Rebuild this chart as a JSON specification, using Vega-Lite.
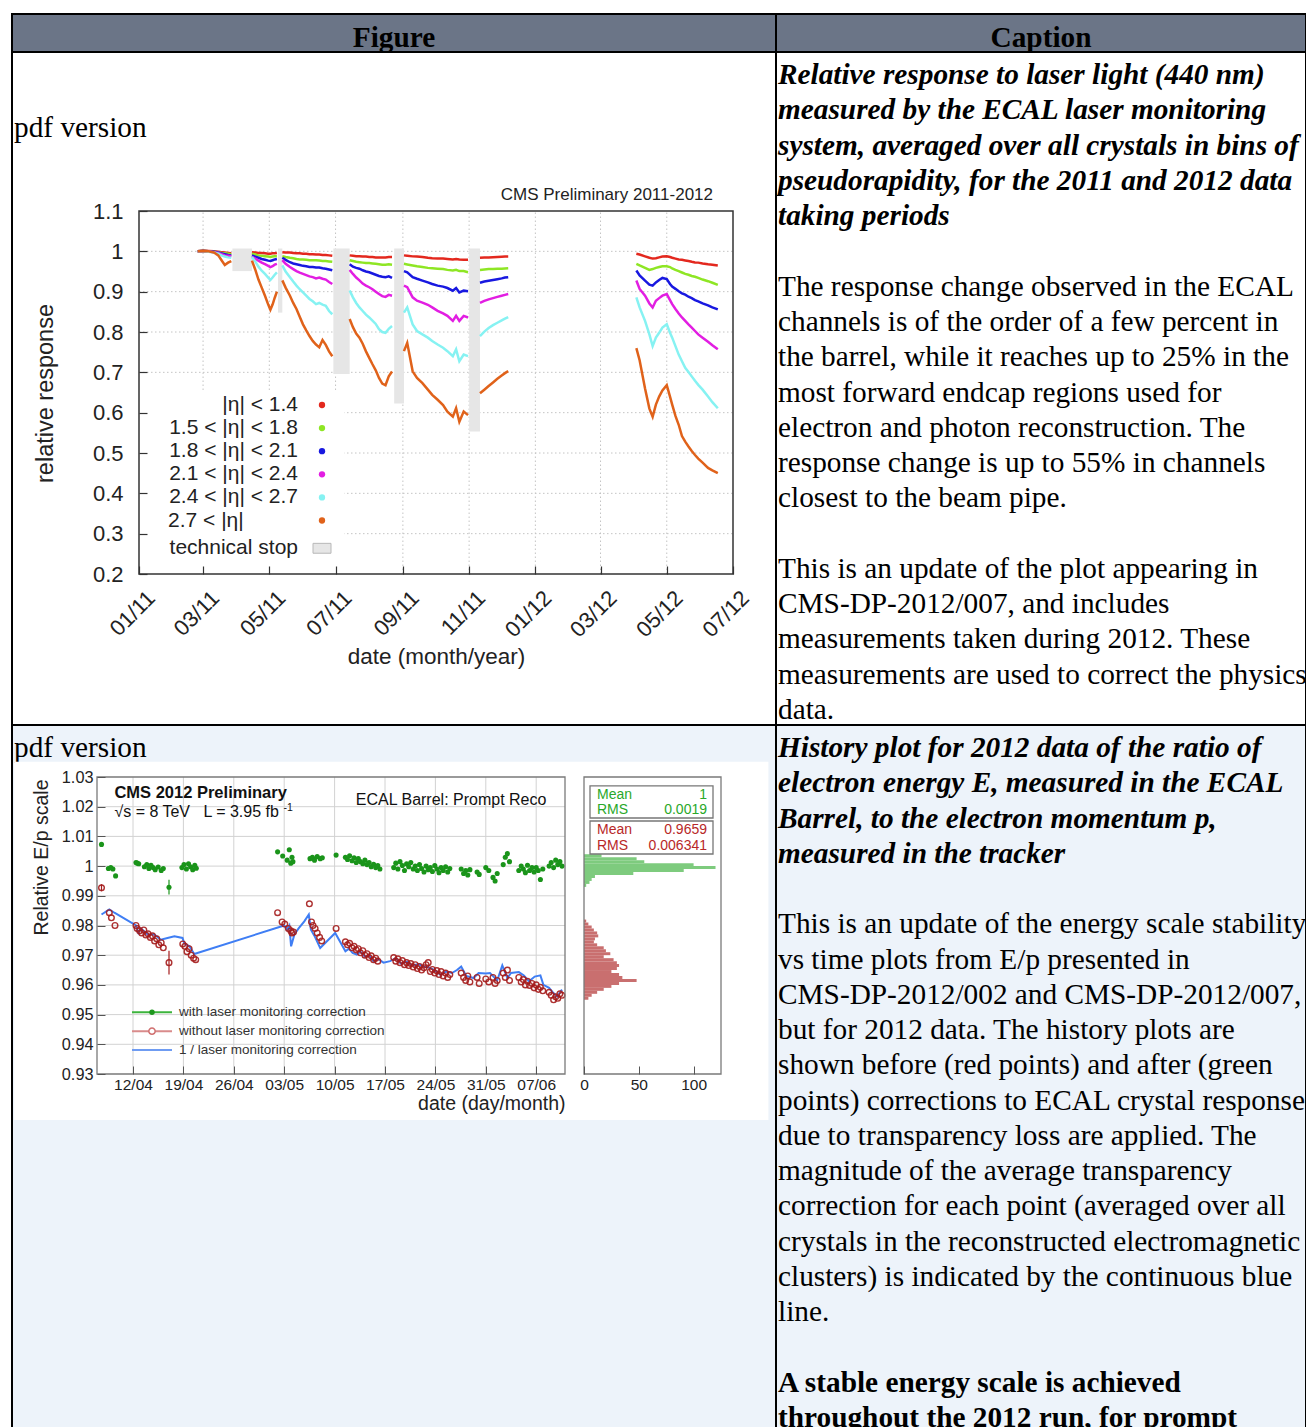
{
  "$schema": "https://vega.github.io/schema/vega-lite/v6.json",
  "width": 1306,
  "height": 1427,
  "autosize": "none",
  "padding": 0,
  "background": "#ffffff",
  "config": {"view": {"stroke": null}, "axis": {"labelFont": "Liberation Sans", "titleFont": "Liberation Sans", "zindex": 1}},
  "datasets": {
    "cells": [
      {"c0": 0, "c1": 1, "r0": 0, "r1": 1, "kind": "head"},
      {"c0": 1, "c1": 2, "r0": 0, "r1": 1, "kind": "head"},
      {"c0": 0, "c1": 1, "r0": 1, "r1": 2, "kind": "plain"},
      {"c0": 1, "c1": 2, "r0": 1, "r1": 2, "kind": "plain"},
      {"c0": 0, "c1": 1, "r0": 2, "r1": 3, "kind": "shade"},
      {"c0": 1, "c1": 2, "r0": 2, "r1": 3, "kind": "shade"}
    ],
    "caption1": [
      {"col": 0, "k": 1.5, "p": "tx", "t": "pdf version"},
      {"col": 1, "k": 0, "p": "ti", "t": "Relative response to laser light (440 nm)"},
      {"col": 1, "k": 1, "p": "ti", "t": "measured by the ECAL laser monitoring"},
      {"col": 1, "k": 2, "p": "ti", "t": "system, averaged over all crystals in bins of"},
      {"col": 1, "k": 3, "p": "ti", "t": "pseudorapidity, for the 2011 and 2012 data"},
      {"col": 1, "k": 4, "p": "ti", "t": "taking periods"},
      {"col": 1, "k": 6, "p": "tx", "t": "The response change observed in the ECAL"},
      {"col": 1, "k": 7, "p": "tx", "t": "channels is of the order of a few percent in"},
      {"col": 1, "k": 8, "p": "tx", "t": "the barrel, while it reaches up to 25% in the"},
      {"col": 1, "k": 9, "p": "tx", "t": "most forward endcap regions used for"},
      {"col": 1, "k": 10, "p": "tx", "t": "electron and photon reconstruction. The"},
      {"col": 1, "k": 11, "p": "tx", "t": "response change is up to 55% in channels"},
      {"col": 1, "k": 12, "p": "tx", "t": "closest to the beam pipe."},
      {"col": 1, "k": 14, "p": "tx", "t": "This is an update of the plot appearing in"},
      {"col": 1, "k": 15, "p": "tx", "t": "CMS-DP-2012/007, and includes"},
      {"col": 1, "k": 16, "p": "tx", "t": "measurements taken during 2012. These"},
      {"col": 1, "k": 17, "p": "tx", "t": "measurements are used to correct the physics"},
      {"col": 1, "k": 18, "p": "tx", "t": "data."}
    ],
    "caption2": [
      {"col": 0, "k": 0, "p": "tx", "t": "pdf version"},
      {"col": 1, "k": 0, "p": "ti", "t": "History plot for 2012 data of the ratio of"},
      {"col": 1, "k": 1, "p": "ti", "t": "electron energy E, measured in the ECAL"},
      {"col": 1, "k": 2, "p": "ti", "t": "Barrel, to the electron momentum p,"},
      {"col": 1, "k": 3, "p": "ti", "t": "measured in the tracker"},
      {"col": 1, "k": 5, "p": "tx", "t": "This is an update of the energy scale stability"},
      {"col": 1, "k": 6, "p": "tx", "t": "vs time plots from E/p presented in"},
      {"col": 1, "k": 7, "p": "tx", "t": "CMS-DP-2012/002 and CMS-DP-2012/007,"},
      {"col": 1, "k": 8, "p": "tx", "t": "but for 2012 data. The history plots are"},
      {"col": 1, "k": 9, "p": "tx", "t": "shown before (red points) and after (green"},
      {"col": 1, "k": 10, "p": "tx", "t": "points) corrections to ECAL crystal response"},
      {"col": 1, "k": 11, "p": "tx", "t": "due to transparency loss are applied. The"},
      {"col": 1, "k": 12, "p": "tx", "t": "magnitude of the average transparency"},
      {"col": 1, "k": 13, "p": "tx", "t": "correction for each point (averaged over all"},
      {"col": 1, "k": 14, "p": "tx", "t": "crystals in the reconstructed electromagnetic"},
      {"col": 1, "k": 15, "p": "tx", "t": "clusters) is indicated by the continuous blue"},
      {"col": 1, "k": 16, "p": "tx", "t": "line."},
      {"col": 1, "k": 18, "p": "b", "t": "A stable energy scale is achieved"},
      {"col": 1, "k": 19, "p": "b", "t": "throughout the 2012 run, for prompt"}
    ],
    "response": [
      {"g": 1, "t": "2011-02-24", "a": 1.0, "b": 1.0, "c": 1.0, "d": 1.0, "e": 1.0, "f": 1.0},
      {"g": 1, "t": "2011-03-01", "a": 1.002, "b": 1.001, "c": 1.001, "d": 1.0, "e": 1.0, "f": 1.001},
      {"g": 1, "t": "2011-03-06", "a": 1.001, "b": 1.0, "c": 1.0, "d": 1.0, "e": 0.999, "f": 1.0},
      {"g": 1, "t": "2011-03-11", "a": 1.0, "b": 0.999, "c": 0.999, "d": 0.998, "e": 0.997, "f": 0.997},
      {"g": 1, "t": "2011-03-15", "a": 0.999, "b": 0.998, "c": 0.997, "d": 0.996, "e": 0.994, "f": 0.99},
      {"g": 1, "t": "2011-03-18", "a": 0.998, "b": 0.996, "c": 0.995, "d": 0.993, "e": 0.99, "f": 0.978},
      {"g": 1, "t": "2011-03-21", "a": 0.997, "b": 0.995, "c": 0.993, "d": 0.99, "e": 0.987, "f": 0.966},
      {"g": 1, "t": "2011-03-24", "a": 0.996, "b": 0.994, "c": 0.991, "d": 0.989, "e": 0.985, "f": 0.972},
      {"g": 1, "t": "2011-03-27", "a": 0.995, "b": 0.993, "c": 0.99, "d": 0.988, "e": 0.984, "f": 0.976},
      {"g": 2, "t": "2011-04-15", "a": 0.998, "b": 0.994, "c": 0.99, "d": 0.986, "e": 0.986, "f": 0.977},
      {"g": 2, "t": "2011-04-18", "a": 0.997, "b": 0.992, "c": 0.987, "d": 0.982, "e": 0.975, "f": 0.955},
      {"g": 2, "t": "2011-04-21", "a": 0.996, "b": 0.99, "c": 0.984, "d": 0.977, "e": 0.962, "f": 0.93},
      {"g": 2, "t": "2011-04-24", "a": 0.996, "b": 0.989, "c": 0.981, "d": 0.972, "e": 0.952, "f": 0.91},
      {"g": 2, "t": "2011-04-27", "a": 0.995, "b": 0.988, "c": 0.979, "d": 0.968, "e": 0.944, "f": 0.89},
      {"g": 2, "t": "2011-04-30", "a": 0.994, "b": 0.987, "c": 0.977, "d": 0.964, "e": 0.935, "f": 0.868},
      {"g": 2, "t": "2011-05-02", "a": 0.994, "b": 0.986, "c": 0.976, "d": 0.961, "e": 0.929, "f": 0.855},
      {"g": 2, "t": "2011-05-04", "a": 0.995, "b": 0.987, "c": 0.978, "d": 0.963, "e": 0.935, "f": 0.868},
      {"g": 2, "t": "2011-05-06", "a": 0.995, "b": 0.988, "c": 0.98, "d": 0.967, "e": 0.942, "f": 0.885},
      {"g": 2, "t": "2011-05-08", "a": 0.996, "b": 0.988, "c": 0.981, "d": 0.969, "e": 0.948, "f": 0.9},
      {"g": 3, "t": "2011-05-13", "a": 0.998, "b": 0.988, "c": 0.984, "d": 0.978, "e": 0.965, "f": 0.928},
      {"g": 3, "t": "2011-05-16", "a": 0.997, "b": 0.986, "c": 0.979, "d": 0.969, "e": 0.95, "f": 0.91},
      {"g": 3, "t": "2011-05-20", "a": 0.997, "b": 0.984, "c": 0.973, "d": 0.961, "e": 0.936, "f": 0.89},
      {"g": 3, "t": "2011-05-23", "a": 0.996, "b": 0.983, "c": 0.97, "d": 0.956, "e": 0.925, "f": 0.872},
      {"g": 3, "t": "2011-05-26", "a": 0.995, "b": 0.981, "c": 0.968, "d": 0.951, "e": 0.915, "f": 0.857},
      {"g": 3, "t": "2011-05-29", "a": 0.995, "b": 0.98, "c": 0.966, "d": 0.947, "e": 0.906, "f": 0.838},
      {"g": 3, "t": "2011-06-01", "a": 0.994, "b": 0.98, "c": 0.964, "d": 0.944, "e": 0.898, "f": 0.819},
      {"g": 3, "t": "2011-06-04", "a": 0.994, "b": 0.979, "c": 0.963, "d": 0.941, "e": 0.89, "f": 0.804},
      {"g": 3, "t": "2011-06-07", "a": 0.993, "b": 0.978, "c": 0.961, "d": 0.938, "e": 0.882, "f": 0.79},
      {"g": 3, "t": "2011-06-10", "a": 0.993, "b": 0.978, "c": 0.961, "d": 0.936, "e": 0.876, "f": 0.778},
      {"g": 3, "t": "2011-06-13", "a": 0.992, "b": 0.978, "c": 0.96, "d": 0.933, "e": 0.869, "f": 0.769},
      {"g": 3, "t": "2011-06-16", "a": 0.992, "b": 0.977, "c": 0.96, "d": 0.935, "e": 0.872, "f": 0.762},
      {"g": 3, "t": "2011-06-19", "a": 0.991, "b": 0.976, "c": 0.958, "d": 0.932, "e": 0.868, "f": 0.78},
      {"g": 3, "t": "2011-06-22", "a": 0.991, "b": 0.976, "c": 0.957, "d": 0.93, "e": 0.865, "f": 0.768},
      {"g": 3, "t": "2011-06-25", "a": 0.99, "b": 0.975, "c": 0.955, "d": 0.924, "e": 0.852, "f": 0.752},
      {"g": 3, "t": "2011-06-28", "a": 0.989, "b": 0.974, "c": 0.953, "d": 0.919, "e": 0.844, "f": 0.74},
      {"g": 4, "t": "2011-07-14", "a": 0.99, "b": 0.978, "c": 0.968, "d": 0.954, "e": 0.903, "f": 0.832},
      {"g": 4, "t": "2011-07-17", "a": 0.989, "b": 0.976, "c": 0.962, "d": 0.944, "e": 0.886, "f": 0.812},
      {"g": 4, "t": "2011-07-20", "a": 0.988, "b": 0.974, "c": 0.959, "d": 0.935, "e": 0.872, "f": 0.796},
      {"g": 4, "t": "2011-07-23", "a": 0.988, "b": 0.973, "c": 0.957, "d": 0.928, "e": 0.861, "f": 0.786},
      {"g": 4, "t": "2011-07-26", "a": 0.987, "b": 0.972, "c": 0.953, "d": 0.92, "e": 0.852, "f": 0.771},
      {"g": 4, "t": "2011-07-29", "a": 0.987, "b": 0.971, "c": 0.95, "d": 0.915, "e": 0.843, "f": 0.752},
      {"g": 4, "t": "2011-08-01", "a": 0.986, "b": 0.971, "c": 0.948, "d": 0.911, "e": 0.836, "f": 0.736},
      {"g": 4, "t": "2011-08-04", "a": 0.986, "b": 0.97, "c": 0.945, "d": 0.906, "e": 0.828, "f": 0.72},
      {"g": 4, "t": "2011-08-07", "a": 0.985, "b": 0.969, "c": 0.942, "d": 0.9, "e": 0.82, "f": 0.705},
      {"g": 4, "t": "2011-08-10", "a": 0.985, "b": 0.968, "c": 0.939, "d": 0.894, "e": 0.807, "f": 0.686},
      {"g": 4, "t": "2011-08-13", "a": 0.985, "b": 0.967, "c": 0.937, "d": 0.889, "e": 0.8, "f": 0.672},
      {"g": 4, "t": "2011-08-16", "a": 0.985, "b": 0.967, "c": 0.936, "d": 0.887, "e": 0.798, "f": 0.668},
      {"g": 4, "t": "2011-08-19", "a": 0.986, "b": 0.968, "c": 0.938, "d": 0.892, "e": 0.808, "f": 0.69},
      {"g": 4, "t": "2011-08-22", "a": 0.986, "b": 0.967, "c": 0.934, "d": 0.89, "e": 0.815, "f": 0.702},
      {"g": 5, "t": "2011-09-02", "a": 0.99, "b": 0.969, "c": 0.951, "d": 0.915, "e": 0.848, "f": 0.7525},
      {"g": 5, "t": "2011-09-05", "a": 0.989, "b": 0.9675, "c": 0.948, "d": 0.911, "e": 0.861, "f": 0.773},
      {"g": 5, "t": "2011-09-10", "a": 0.9875, "b": 0.965, "c": 0.936, "d": 0.886, "e": 0.819, "f": 0.7025},
      {"g": 5, "t": "2011-09-14", "a": 0.987, "b": 0.963, "c": 0.932, "d": 0.8775, "e": 0.8025, "f": 0.686},
      {"g": 5, "t": "2011-09-19", "a": 0.986, "b": 0.961, "c": 0.9275, "d": 0.873, "e": 0.794, "f": 0.673},
      {"g": 5, "t": "2011-09-24", "a": 0.984, "b": 0.959, "c": 0.923, "d": 0.8675, "e": 0.786, "f": 0.657},
      {"g": 5, "t": "2011-09-28", "a": 0.983, "b": 0.958, "c": 0.919, "d": 0.861, "e": 0.7775, "f": 0.644},
      {"g": 5, "t": "2011-10-03", "a": 0.9825, "b": 0.957, "c": 0.915, "d": 0.8525, "e": 0.769, "f": 0.632},
      {"g": 5, "t": "2011-10-08", "a": 0.982, "b": 0.956, "c": 0.9125, "d": 0.846, "e": 0.761, "f": 0.619},
      {"g": 5, "t": "2011-10-12", "a": 0.981, "b": 0.954, "c": 0.909, "d": 0.84, "e": 0.7525, "f": 0.6025},
      {"g": 5, "t": "2011-10-17", "a": 0.98, "b": 0.9525, "c": 0.9025, "d": 0.8275, "e": 0.74, "f": 0.59},
      {"g": 5, "t": "2011-10-20", "a": 0.981, "b": 0.954, "c": 0.909, "d": 0.84, "e": 0.757, "f": 0.611},
      {"g": 5, "t": "2011-10-23", "a": 0.98, "b": 0.951, "c": 0.898, "d": 0.8275, "e": 0.7275, "f": 0.5775},
      {"g": 5, "t": "2011-10-27", "a": 0.979, "b": 0.951, "c": 0.9025, "d": 0.84, "e": 0.744, "f": 0.603},
      {"g": 5, "t": "2011-10-31", "a": 0.979, "b": 0.948, "c": 0.901, "d": 0.836, "e": 0.74, "f": 0.594},
      {"g": 6, "t": "2011-11-11", "a": 0.984, "b": 0.954, "c": 0.922, "d": 0.872, "e": 0.79, "f": 0.648},
      {"g": 6, "t": "2011-11-15", "a": 0.9845, "b": 0.955, "c": 0.925, "d": 0.877, "e": 0.801, "f": 0.657},
      {"g": 6, "t": "2011-11-19", "a": 0.985, "b": 0.956, "c": 0.927, "d": 0.881, "e": 0.81, "f": 0.666},
      {"g": 6, "t": "2011-11-23", "a": 0.9855, "b": 0.9565, "c": 0.929, "d": 0.884, "e": 0.817, "f": 0.675},
      {"g": 6, "t": "2011-11-27", "a": 0.986, "b": 0.957, "c": 0.931, "d": 0.887, "e": 0.823, "f": 0.684},
      {"g": 6, "t": "2011-12-01", "a": 0.9865, "b": 0.957, "c": 0.933, "d": 0.89, "e": 0.829, "f": 0.692},
      {"g": 6, "t": "2011-12-04", "a": 0.987, "b": 0.9575, "c": 0.935, "d": 0.892, "e": 0.833, "f": 0.698},
      {"g": 6, "t": "2011-12-07", "a": 0.987, "b": 0.958, "c": 0.936, "d": 0.894, "e": 0.837, "f": 0.703},
      {"g": 7, "t": "2012-04-03", "a": 0.994, "b": 0.969, "c": 0.9525, "d": 0.9275, "e": 0.886, "f": 0.76},
      {"g": 7, "t": "2012-04-06", "a": 0.992, "b": 0.965, "c": 0.94, "d": 0.9067, "e": 0.861, "f": 0.73},
      {"g": 7, "t": "2012-04-11", "a": 0.9875, "b": 0.959, "c": 0.9275, "d": 0.89, "e": 0.8275, "f": 0.66},
      {"g": 7, "t": "2012-04-15", "a": 0.984, "b": 0.954, "c": 0.9175, "d": 0.8708, "e": 0.794, "f": 0.61},
      {"g": 7, "t": "2012-04-18", "a": 0.982, "b": 0.956, "c": 0.915, "d": 0.8608, "e": 0.765, "f": 0.59},
      {"g": 7, "t": "2012-04-21", "a": 0.983, "b": 0.959, "c": 0.923, "d": 0.8775, "e": 0.786, "f": 0.62},
      {"g": 7, "t": "2012-04-24", "a": 0.985, "b": 0.961, "c": 0.929, "d": 0.884, "e": 0.798, "f": 0.64},
      {"g": 7, "t": "2012-04-27", "a": 0.987, "b": 0.963, "c": 0.934, "d": 0.89, "e": 0.811, "f": 0.655},
      {"g": 7, "t": "2012-05-01", "a": 0.988, "b": 0.963, "c": 0.931, "d": 0.894, "e": 0.819, "f": 0.668},
      {"g": 7, "t": "2012-05-04", "a": 0.986, "b": 0.961, "c": 0.919, "d": 0.879, "e": 0.798, "f": 0.64},
      {"g": 7, "t": "2012-05-06", "a": 0.984, "b": 0.9575, "c": 0.9125, "d": 0.869, "e": 0.786, "f": 0.62},
      {"g": 7, "t": "2012-05-09", "a": 0.982, "b": 0.954, "c": 0.907, "d": 0.857, "e": 0.765, "f": 0.592},
      {"g": 7, "t": "2012-05-12", "a": 0.98, "b": 0.951, "c": 0.901, "d": 0.846, "e": 0.744, "f": 0.57},
      {"g": 7, "t": "2012-05-15", "a": 0.979, "b": 0.9475, "c": 0.896, "d": 0.836, "e": 0.7275, "f": 0.542},
      {"g": 7, "t": "2012-05-18", "a": 0.9775, "b": 0.944, "c": 0.8925, "d": 0.8275, "e": 0.711, "f": 0.528},
      {"g": 7, "t": "2012-05-21", "a": 0.976, "b": 0.942, "c": 0.8875, "d": 0.819, "e": 0.701, "f": 0.516},
      {"g": 7, "t": "2012-05-24", "a": 0.974, "b": 0.939, "c": 0.884, "d": 0.811, "e": 0.69, "f": 0.505},
      {"g": 7, "t": "2012-05-27", "a": 0.9725, "b": 0.937, "c": 0.879, "d": 0.8025, "e": 0.679, "f": 0.495},
      {"g": 7, "t": "2012-05-30", "a": 0.972, "b": 0.934, "c": 0.876, "d": 0.794, "e": 0.669, "f": 0.486},
      {"g": 7, "t": "2012-06-03", "a": 0.97, "b": 0.93, "c": 0.871, "d": 0.786, "e": 0.657, "f": 0.476},
      {"g": 7, "t": "2012-06-08", "a": 0.968, "b": 0.926, "c": 0.866, "d": 0.776, "e": 0.64, "f": 0.463},
      {"g": 7, "t": "2012-06-12", "a": 0.967, "b": 0.922, "c": 0.861, "d": 0.767, "e": 0.626, "f": 0.457},
      {"g": 7, "t": "2012-06-17", "a": 0.965, "b": 0.917, "c": 0.856, "d": 0.757, "e": 0.611, "f": 0.45}
    ],
    "grid1x": [{"t": "2011-03-01"}, {"t": "2011-05-01"}, {"t": "2011-07-01"}, {"t": "2011-09-01"}, {"t": "2011-11-01"}, {"t": "2012-01-01"}, {"t": "2012-03-01"}, {"t": "2012-05-01"}],
    "grid1y": [{"v": 0.3}, {"v": 0.4}, {"v": 0.5}, {"v": 0.6}, {"v": 0.7}, {"v": 0.8}, {"v": 0.9}, {"v": 1.0}],
    "stops": [
      {"t0": "2011-03-28", "t1": "2011-04-15", "lo": 0.951, "hi": 1.007},
      {"t0": "2011-05-09", "t1": "2011-05-13", "lo": 0.848, "hi": 1.007},
      {"t0": "2011-06-29", "t1": "2011-07-14", "lo": 0.696, "hi": 1.007},
      {"t0": "2011-08-24", "t1": "2011-09-02", "lo": 0.623, "hi": 1.007},
      {"t0": "2011-11-01", "t1": "2011-11-11", "lo": 0.553, "hi": 1.007}
    ],
    "key1": [
      {"k": 0, "s": "a", "label": "|η| < 1.4"},
      {"k": 1, "s": "b", "label": "1.5 < |η| < 1.8"},
      {"k": 2, "s": "c", "label": "1.8 < |η| < 2.1"},
      {"k": 3, "s": "d", "label": "2.1 < |η| < 2.4"},
      {"k": 4, "s": "e", "label": "2.4 < |η| < 2.7"},
      {"k": 5, "s": "f", "label": "2.7 < |η|"},
      {"k": 6, "s": "stop", "label": "technical stop"}
    ],
    "ep_with": [
      {"t": "2012-04-07T15:00Z", "v": 1.0073, "lo": 1.0067, "hi": 1.0079},
      {"t": "2012-04-08T14:00Z", "v": 0.9992}, {"t": "2012-04-08T22:00Z", "v": 0.9995}, {"t": "2012-04-09T05:00Z", "v": 0.999}, {"t": "2012-04-09T14:00Z", "v": 0.9967},
      {"t": "2012-04-12T10:00Z", "v": 1.0012}, {"t": "2012-04-12T14:00Z", "v": 1.001}, {"t": "2012-04-12T19:00Z", "v": 1.0008},
      {"t": "2012-04-13T14:00Z", "v": 0.9998}, {"t": "2012-04-13T22:00Z", "v": 1.0005}, {"t": "2012-04-14T05:00Z", "v": 0.9992}, {"t": "2012-04-14T12:00Z", "v": 1.0003},
      {"t": "2012-04-14T19:00Z", "v": 0.9995}, {"t": "2012-04-15T02:00Z", "v": 0.9988}, {"t": "2012-04-15T12:00Z", "v": 0.9997}, {"t": "2012-04-15T22:00Z", "v": 0.9985}, {"t": "2012-04-16T05:00Z", "v": 0.9992},
      {"t": "2012-04-17T00:00Z", "v": 0.9929, "lo": 0.9904, "hi": 0.9954},
      {"t": "2012-04-18T19:00Z", "v": 0.9995}, {"t": "2012-04-19T02:00Z", "v": 1.0005}, {"t": "2012-04-19T10:00Z", "v": 0.999}, {"t": "2012-04-19T17:00Z", "v": 1.0008},
      {"t": "2012-04-20T00:00Z", "v": 0.9998}, {"t": "2012-04-20T07:00Z", "v": 0.9988}, {"t": "2012-04-20T14:00Z", "v": 1.0003}, {"t": "2012-04-20T19:00Z", "v": 0.9993},
      {"t": "2012-05-02T02:00Z", "v": 1.0048}, {"t": "2012-05-02T19:00Z", "v": 1.0034}, {"t": "2012-05-03T10:00Z", "v": 1.002}, {"t": "2012-05-03T17:00Z", "v": 1.0055},
      {"t": "2012-05-03T22:00Z", "v": 1.001}, {"t": "2012-05-04T02:00Z", "v": 1.003}, {"t": "2012-05-04T05:00Z", "v": 1.0015},
      {"t": "2012-05-06T14:00Z", "v": 1.0025}, {"t": "2012-05-06T22:00Z", "v": 1.003}, {"t": "2012-05-07T05:00Z", "v": 1.002}, {"t": "2012-05-07T14:00Z", "v": 1.0032}, {"t": "2012-05-08T00:00Z", "v": 1.0025}, {"t": "2012-05-08T07:00Z", "v": 1.0028},
      {"t": "2012-05-10T05:00Z", "v": 1.0037},
      {"t": "2012-05-11T12:00Z", "v": 1.003}, {"t": "2012-05-11T19:00Z", "v": 1.0022}, {"t": "2012-05-12T02:00Z", "v": 1.0035}, {"t": "2012-05-12T10:00Z", "v": 1.0018}, {"t": "2012-05-12T17:00Z", "v": 1.0028},
      {"t": "2012-05-13T00:00Z", "v": 1.0012}, {"t": "2012-05-13T07:00Z", "v": 1.0025}, {"t": "2012-05-13T14:00Z", "v": 1.0015}, {"t": "2012-05-13T22:00Z", "v": 1.0008}, {"t": "2012-05-14T05:00Z", "v": 1.002},
      {"t": "2012-05-14T12:00Z", "v": 1.0005}, {"t": "2012-05-14T19:00Z", "v": 1.0012}, {"t": "2012-05-15T02:00Z", "v": 0.9998}, {"t": "2012-05-15T10:00Z", "v": 1.0006}, {"t": "2012-05-15T17:00Z", "v": 0.9995},
      {"t": "2012-05-16T00:00Z", "v": 1.0002}, {"t": "2012-05-16T07:00Z", "v": 0.999},
      {"t": "2012-05-18T05:00Z", "v": 0.9995}, {"t": "2012-05-18T12:00Z", "v": 1.001}, {"t": "2012-05-18T19:00Z", "v": 0.999}, {"t": "2012-05-19T02:00Z", "v": 1.0015}, {"t": "2012-05-19T10:00Z", "v": 1.0002},
      {"t": "2012-05-19T17:00Z", "v": 0.9985}, {"t": "2012-05-20T00:00Z", "v": 1.0008}, {"t": "2012-05-20T07:00Z", "v": 0.9998}, {"t": "2012-05-20T14:00Z", "v": 1.0012}, {"t": "2012-05-20T22:00Z", "v": 0.999},
      {"t": "2012-05-21T05:00Z", "v": 1.0}, {"t": "2012-05-21T12:00Z", "v": 0.9985}, {"t": "2012-05-21T19:00Z", "v": 1.0005}, {"t": "2012-05-22T02:00Z", "v": 0.9992}, {"t": "2012-05-22T10:00Z", "v": 0.998},
      {"t": "2012-05-22T17:00Z", "v": 1.0}, {"t": "2012-05-23T00:00Z", "v": 0.9988}, {"t": "2012-05-23T07:00Z", "v": 0.9995}, {"t": "2012-05-23T14:00Z", "v": 0.9982}, {"t": "2012-05-23T22:00Z", "v": 1.0002},
      {"t": "2012-05-24T05:00Z", "v": 0.999}, {"t": "2012-05-24T12:00Z", "v": 0.9978}, {"t": "2012-05-24T19:00Z", "v": 0.9995}, {"t": "2012-05-25T02:00Z", "v": 0.9985}, {"t": "2012-05-25T10:00Z", "v": 0.9998},
      {"t": "2012-05-25T17:00Z", "v": 0.998}, {"t": "2012-05-26T00:00Z", "v": 0.9992},
      {"t": "2012-05-27T14:00Z", "v": 0.999}, {"t": "2012-05-27T22:00Z", "v": 0.9975}, {"t": "2012-05-28T05:00Z", "v": 0.9985}, {"t": "2012-05-28T12:00Z", "v": 0.997}, {"t": "2012-05-28T19:00Z", "v": 0.9988},
      {"t": "2012-05-29T19:00Z", "v": 0.998}, {"t": "2012-05-30T02:00Z", "v": 0.9972},
      {"t": "2012-05-31T00:00Z", "v": 0.9995}, {"t": "2012-05-31T10:00Z", "v": 0.9985},
      {"t": "2012-06-01T00:00Z", "v": 0.9962}, {"t": "2012-06-01T07:00Z", "v": 0.995}, {"t": "2012-06-01T14:00Z", "v": 0.9975},
      {"t": "2012-06-02T10:00Z", "v": 1.0005}, {"t": "2012-06-02T17:00Z", "v": 1.003}, {"t": "2012-06-03T00:00Z", "v": 1.0042}, {"t": "2012-06-03T07:00Z", "v": 1.0015},
      {"t": "2012-06-04T14:00Z", "v": 0.9985}, {"t": "2012-06-04T22:00Z", "v": 1.0}, {"t": "2012-06-05T05:00Z", "v": 0.999}, {"t": "2012-06-05T12:00Z", "v": 0.9978}, {"t": "2012-06-05T19:00Z", "v": 1.0003},
      {"t": "2012-06-06T02:00Z", "v": 0.9985}, {"t": "2012-06-06T10:00Z", "v": 0.9995}, {"t": "2012-06-06T17:00Z", "v": 0.998}, {"t": "2012-06-07T00:00Z", "v": 0.9995}, {"t": "2012-06-07T07:00Z", "v": 0.9985},
      {"t": "2012-06-07T14:00Z", "v": 0.9955}, {"t": "2012-06-07T22:00Z", "v": 0.999},
      {"t": "2012-06-08T19:00Z", "v": 1.0}, {"t": "2012-06-09T02:00Z", "v": 1.0012}, {"t": "2012-06-09T10:00Z", "v": 0.9995}, {"t": "2012-06-09T17:00Z", "v": 1.002}, {"t": "2012-06-10T00:00Z", "v": 1.0005},
      {"t": "2012-06-10T07:00Z", "v": 1.0015}, {"t": "2012-06-10T14:00Z", "v": 1.0}
    ],
    "ep_without": [
      {"t": "2012-04-07T15:00Z", "v": 0.9927, "lo": 0.9915, "hi": 0.9939},
      {"t": "2012-04-08T17:00Z", "v": 0.9843}, {"t": "2012-04-09T00:00Z", "v": 0.9826}, {"t": "2012-04-09T12:00Z", "v": 0.98},
      {"t": "2012-04-12T10:00Z", "v": 0.98}, {"t": "2012-04-12T14:00Z", "v": 0.979}, {"t": "2012-04-12T22:00Z", "v": 0.9782}, {"t": "2012-04-13T05:00Z", "v": 0.9775}, {"t": "2012-04-13T12:00Z", "v": 0.9785},
      {"t": "2012-04-13T19:00Z", "v": 0.9768}, {"t": "2012-04-14T02:00Z", "v": 0.9772}, {"t": "2012-04-14T10:00Z", "v": 0.976}, {"t": "2012-04-14T17:00Z", "v": 0.9765}, {"t": "2012-04-15T00:00Z", "v": 0.9748},
      {"t": "2012-04-15T07:00Z", "v": 0.9755}, {"t": "2012-04-15T14:00Z", "v": 0.9735}, {"t": "2012-04-15T22:00Z", "v": 0.9742}, {"t": "2012-04-16T05:00Z", "v": 0.9725},
      {"t": "2012-04-17T00:00Z", "v": 0.9675, "lo": 0.9635, "hi": 0.9715},
      {"t": "2012-04-18T22:00Z", "v": 0.9738}, {"t": "2012-04-19T05:00Z", "v": 0.973}, {"t": "2012-04-19T12:00Z", "v": 0.9712}, {"t": "2012-04-19T19:00Z", "v": 0.9722}, {"t": "2012-04-20T02:00Z", "v": 0.97},
      {"t": "2012-04-20T10:00Z", "v": 0.969}, {"t": "2012-04-20T17:00Z", "v": 0.9685},
      {"t": "2012-05-02T02:00Z", "v": 0.9843}, {"t": "2012-05-02T17:00Z", "v": 0.9812}, {"t": "2012-05-03T02:00Z", "v": 0.9805}, {"t": "2012-05-03T14:00Z", "v": 0.979}, {"t": "2012-05-03T22:00Z", "v": 0.9782},
      {"t": "2012-05-04T02:00Z", "v": 0.9775}, {"t": "2012-05-04T07:00Z", "v": 0.9778},
      {"t": "2012-05-06T12:00Z", "v": 0.9873}, {"t": "2012-05-06T19:00Z", "v": 0.9812}, {"t": "2012-05-07T00:00Z", "v": 0.98}, {"t": "2012-05-07T07:00Z", "v": 0.979}, {"t": "2012-05-07T14:00Z", "v": 0.9775},
      {"t": "2012-05-07T22:00Z", "v": 0.976}, {"t": "2012-05-08T05:00Z", "v": 0.9748},
      {"t": "2012-05-10T05:00Z", "v": 0.979},
      {"t": "2012-05-11T12:00Z", "v": 0.9745}, {"t": "2012-05-11T19:00Z", "v": 0.9735}, {"t": "2012-05-12T02:00Z", "v": 0.974}, {"t": "2012-05-12T10:00Z", "v": 0.9725}, {"t": "2012-05-12T17:00Z", "v": 0.973},
      {"t": "2012-05-13T00:00Z", "v": 0.9718}, {"t": "2012-05-13T07:00Z", "v": 0.9722}, {"t": "2012-05-13T14:00Z", "v": 0.9708}, {"t": "2012-05-13T22:00Z", "v": 0.9715}, {"t": "2012-05-14T05:00Z", "v": 0.97},
      {"t": "2012-05-14T12:00Z", "v": 0.9705}, {"t": "2012-05-14T19:00Z", "v": 0.9692}, {"t": "2012-05-15T02:00Z", "v": 0.9698}, {"t": "2012-05-15T10:00Z", "v": 0.9685}, {"t": "2012-05-15T17:00Z", "v": 0.969},
      {"t": "2012-05-16T00:00Z", "v": 0.968},
      {"t": "2012-05-18T05:00Z", "v": 0.9692}, {"t": "2012-05-18T12:00Z", "v": 0.968}, {"t": "2012-05-18T19:00Z", "v": 0.9688}, {"t": "2012-05-19T02:00Z", "v": 0.9675}, {"t": "2012-05-19T10:00Z", "v": 0.9682},
      {"t": "2012-05-19T17:00Z", "v": 0.9668}, {"t": "2012-05-20T00:00Z", "v": 0.9675}, {"t": "2012-05-20T07:00Z", "v": 0.9665}, {"t": "2012-05-20T14:00Z", "v": 0.9672}, {"t": "2012-05-20T22:00Z", "v": 0.966},
      {"t": "2012-05-21T05:00Z", "v": 0.9668}, {"t": "2012-05-21T12:00Z", "v": 0.9655}, {"t": "2012-05-21T19:00Z", "v": 0.9662}, {"t": "2012-05-22T02:00Z", "v": 0.965}, {"t": "2012-05-22T10:00Z", "v": 0.9658},
      {"t": "2012-05-22T17:00Z", "v": 0.9668}, {"t": "2012-05-23T00:00Z", "v": 0.9675}, {"t": "2012-05-23T07:00Z", "v": 0.9645}, {"t": "2012-05-23T14:00Z", "v": 0.9652}, {"t": "2012-05-23T22:00Z", "v": 0.964},
      {"t": "2012-05-24T05:00Z", "v": 0.9648}, {"t": "2012-05-24T12:00Z", "v": 0.9635}, {"t": "2012-05-24T19:00Z", "v": 0.9645}, {"t": "2012-05-25T02:00Z", "v": 0.963}, {"t": "2012-05-25T10:00Z", "v": 0.964},
      {"t": "2012-05-25T17:00Z", "v": 0.9625}, {"t": "2012-05-26T00:00Z", "v": 0.9635},
      {"t": "2012-05-27T14:00Z", "v": 0.964}, {"t": "2012-05-27T22:00Z", "v": 0.9625}, {"t": "2012-05-28T05:00Z", "v": 0.9615}, {"t": "2012-05-28T12:00Z", "v": 0.963}, {"t": "2012-05-28T19:00Z", "v": 0.961},
      {"t": "2012-05-29T19:00Z", "v": 0.9625}, {"t": "2012-05-30T02:00Z", "v": 0.9605},
      {"t": "2012-05-31T00:00Z", "v": 0.962}, {"t": "2012-05-31T10:00Z", "v": 0.961},
      {"t": "2012-06-01T00:00Z", "v": 0.9625}, {"t": "2012-06-01T07:00Z", "v": 0.9605}, {"t": "2012-06-01T14:00Z", "v": 0.9615},
      {"t": "2012-06-02T10:00Z", "v": 0.964}, {"t": "2012-06-02T17:00Z", "v": 0.9625}, {"t": "2012-06-03T00:00Z", "v": 0.965}, {"t": "2012-06-03T07:00Z", "v": 0.9615},
      {"t": "2012-06-04T14:00Z", "v": 0.9625}, {"t": "2012-06-04T22:00Z", "v": 0.961}, {"t": "2012-06-05T05:00Z", "v": 0.9618}, {"t": "2012-06-05T12:00Z", "v": 0.96}, {"t": "2012-06-05T19:00Z", "v": 0.9612},
      {"t": "2012-06-06T02:00Z", "v": 0.9598}, {"t": "2012-06-06T10:00Z", "v": 0.9605}, {"t": "2012-06-06T17:00Z", "v": 0.959}, {"t": "2012-06-07T00:00Z", "v": 0.96}, {"t": "2012-06-07T07:00Z", "v": 0.9585},
      {"t": "2012-06-07T14:00Z", "v": 0.9592}, {"t": "2012-06-07T22:00Z", "v": 0.958},
      {"t": "2012-06-08T19:00Z", "v": 0.9575}, {"t": "2012-06-09T02:00Z", "v": 0.9565}, {"t": "2012-06-09T10:00Z", "v": 0.955}, {"t": "2012-06-09T17:00Z", "v": 0.956}, {"t": "2012-06-10T00:00Z", "v": 0.9555},
      {"t": "2012-06-10T07:00Z", "v": 0.957}, {"t": "2012-06-10T14:00Z", "v": 0.9565}
    ],
    "ep_corr": [
      {"t": "2012-04-07T15:00Z", "v": 0.9837}, {"t": "2012-04-08T17:00Z", "v": 0.9854}, {"t": "2012-04-09T10:00Z", "v": 0.9843},
      {"t": "2012-04-12T10:00Z", "v": 0.98}, {"t": "2012-04-12T18:00Z", "v": 0.9775}, {"t": "2012-04-13T03:00Z", "v": 0.979}, {"t": "2012-04-14T01:00Z", "v": 0.977},
      {"t": "2012-04-14T23:00Z", "v": 0.977}, {"t": "2012-04-15T21:00Z", "v": 0.9752}, {"t": "2012-04-16T19:00Z", "v": 0.9758}, {"t": "2012-04-17T18:00Z", "v": 0.9764},
      {"t": "2012-04-18T21:00Z", "v": 0.9758}, {"t": "2012-04-19T03:00Z", "v": 0.974}, {"t": "2012-04-19T20:00Z", "v": 0.973}, {"t": "2012-04-20T12:00Z", "v": 0.9704},
      {"t": "2012-05-03T00:00Z", "v": 0.98}, {"t": "2012-05-03T09:00Z", "v": 0.9786}, {"t": "2012-05-03T17:00Z", "v": 0.98}, {"t": "2012-05-03T23:00Z", "v": 0.973},
      {"t": "2012-05-04T10:00Z", "v": 0.977}, {"t": "2012-05-05T00:00Z", "v": 0.979}, {"t": "2012-05-05T19:00Z", "v": 0.9814}, {"t": "2012-05-06T10:00Z", "v": 0.9837},
      {"t": "2012-05-06T17:00Z", "v": 0.9786}, {"t": "2012-05-07T05:00Z", "v": 0.9765}, {"t": "2012-05-08T00:00Z", "v": 0.9724}, {"t": "2012-05-10T02:00Z", "v": 0.9775},
      {"t": "2012-05-11T12:00Z", "v": 0.9713}, {"t": "2012-05-12T00:00Z", "v": 0.9722}, {"t": "2012-05-12T12:00Z", "v": 0.9708}, {"t": "2012-05-13T02:00Z", "v": 0.9702},
      {"t": "2012-05-13T14:00Z", "v": 0.9712}, {"t": "2012-05-14T05:00Z", "v": 0.9695}, {"t": "2012-05-14T19:00Z", "v": 0.97}, {"t": "2012-05-15T10:00Z", "v": 0.968},
      {"t": "2012-05-16T00:00Z", "v": 0.9688}, {"t": "2012-05-16T19:00Z", "v": 0.9675}, {"t": "2012-05-17T17:00Z", "v": 0.968}, {"t": "2012-05-18T12:00Z", "v": 0.969},
      {"t": "2012-05-19T05:00Z", "v": 0.9672}, {"t": "2012-05-20T02:00Z", "v": 0.9678}, {"t": "2012-05-20T19:00Z", "v": 0.9665}, {"t": "2012-05-21T14:00Z", "v": 0.967},
      {"t": "2012-05-22T10:00Z", "v": 0.9662}, {"t": "2012-05-23T05:00Z", "v": 0.9658}, {"t": "2012-05-24T00:00Z", "v": 0.9648}, {"t": "2012-05-24T17:00Z", "v": 0.9634},
      {"t": "2012-05-25T12:00Z", "v": 0.9645}, {"t": "2012-05-26T07:00Z", "v": 0.964}, {"t": "2012-05-27T00:00Z", "v": 0.965}, {"t": "2012-05-27T14:00Z", "v": 0.9662},
      {"t": "2012-05-28T07:00Z", "v": 0.963}, {"t": "2012-05-29T07:00Z", "v": 0.9623}, {"t": "2012-05-30T00:00Z", "v": 0.964}, {"t": "2012-05-31T00:00Z", "v": 0.9638},
      {"t": "2012-05-31T14:00Z", "v": 0.964}, {"t": "2012-06-01T14:00Z", "v": 0.9615}, {"t": "2012-06-02T07:00Z", "v": 0.9666}, {"t": "2012-06-03T00:00Z", "v": 0.9623},
      {"t": "2012-06-03T12:00Z", "v": 0.964}, {"t": "2012-06-04T14:00Z", "v": 0.9643}, {"t": "2012-06-05T07:00Z", "v": 0.9632}, {"t": "2012-06-06T00:00Z", "v": 0.9612},
      {"t": "2012-06-06T19:00Z", "v": 0.9628}, {"t": "2012-06-07T14:00Z", "v": 0.9632}, {"t": "2012-06-08T00:00Z", "v": 0.96}, {"t": "2012-06-08T19:00Z", "v": 0.959},
      {"t": "2012-06-09T07:00Z", "v": 0.9575}, {"t": "2012-06-09T22:00Z", "v": 0.9561}, {"t": "2012-06-10T14:00Z", "v": 0.9584}
    ],
    "grid2x": [{"t": "2012-04-12"}, {"t": "2012-04-19"}, {"t": "2012-04-26"}, {"t": "2012-05-03"}, {"t": "2012-05-10"}, {"t": "2012-05-17"}, {"t": "2012-05-24"}, {"t": "2012-05-31"}, {"t": "2012-06-07"}],
    "grid2y": [{"v": 0.94}, {"v": 0.95}, {"v": 0.96}, {"v": 0.97}, {"v": 0.98}, {"v": 0.99}, {"v": 1.0}, {"v": 1.01}, {"v": 1.02}],
    "hist": [
      {"h": "g", "lo": 1.003, "hi": 1.004, "n": 16}, {"h": "g", "lo": 1.002, "hi": 1.003, "n": 48}, {"h": "g", "lo": 1.001, "hi": 1.002, "n": 55},
      {"h": "g", "lo": 1.0, "hi": 1.001, "n": 100}, {"h": "g", "lo": 0.999, "hi": 1.0, "n": 120}, {"h": "g", "lo": 0.998, "hi": 0.999, "n": 91},
      {"h": "g", "lo": 0.997, "hi": 0.998, "n": 45}, {"h": "g", "lo": 0.996, "hi": 0.997, "n": 10}, {"h": "g", "lo": 0.995, "hi": 0.996, "n": 7},
      {"h": "g", "lo": 0.994, "hi": 0.995, "n": 5}, {"h": "g", "lo": 0.993, "hi": 0.994, "n": 2},
      {"h": "r", "lo": 0.981, "hi": 0.982, "n": 2}, {"h": "r", "lo": 0.98, "hi": 0.981, "n": 4}, {"h": "r", "lo": 0.979, "hi": 0.98, "n": 7},
      {"h": "r", "lo": 0.978, "hi": 0.979, "n": 9}, {"h": "r", "lo": 0.977, "hi": 0.978, "n": 12}, {"h": "r", "lo": 0.976, "hi": 0.977, "n": 13},
      {"h": "r", "lo": 0.975, "hi": 0.976, "n": 10}, {"h": "r", "lo": 0.974, "hi": 0.975, "n": 9}, {"h": "r", "lo": 0.973, "hi": 0.974, "n": 12},
      {"h": "r", "lo": 0.972, "hi": 0.973, "n": 18}, {"h": "r", "lo": 0.971, "hi": 0.972, "n": 20}, {"h": "r", "lo": 0.97, "hi": 0.971, "n": 24},
      {"h": "r", "lo": 0.969, "hi": 0.97, "n": 18}, {"h": "r", "lo": 0.968, "hi": 0.969, "n": 27}, {"h": "r", "lo": 0.967, "hi": 0.968, "n": 30},
      {"h": "r", "lo": 0.966, "hi": 0.967, "n": 32}, {"h": "r", "lo": 0.965, "hi": 0.966, "n": 30}, {"h": "r", "lo": 0.964, "hi": 0.965, "n": 25},
      {"h": "r", "lo": 0.963, "hi": 0.964, "n": 32}, {"h": "r", "lo": 0.962, "hi": 0.963, "n": 35}, {"h": "r", "lo": 0.961, "hi": 0.962, "n": 48},
      {"h": "r", "lo": 0.96, "hi": 0.961, "n": 32}, {"h": "r", "lo": 0.959, "hi": 0.96, "n": 25}, {"h": "r", "lo": 0.958, "hi": 0.959, "n": 18},
      {"h": "r", "lo": 0.957, "hi": 0.958, "n": 12}, {"h": "r", "lo": 0.956, "hi": 0.957, "n": 7}, {"h": "r", "lo": 0.955, "hi": 0.956, "n": 4}
    ],
    "stats": [
      {"line": 0, "grp": "g", "name": "Mean", "val": "1"},
      {"line": 1, "grp": "g", "name": "RMS", "val": "0.0019"},
      {"line": 2, "grp": "r", "name": "Mean", "val": "0.9659"},
      {"line": 3, "grp": "r", "name": "RMS", "val": "0.006341"}
    ],
    "key2": [
      {"k": 0, "key": "g", "label": "with laser monitoring correction"},
      {"k": 1, "key": "r", "label": "without laser monitoring correction"},
      {"k": 2, "key": "b", "label": "1 / laser monitoring correction"}
    ],
    "one": [{}]
  },
  "layer": [
    {
      "data": {"name": "cells"},
      "layer": [
        {
          "mark": {"type": "rect", "stroke": "#000000", "strokeWidth": 2},
          "encoding": {
            "x": {"field": "c0", "type": "quantitative", "scale": {"domain": [0, 1, 2], "range": [12, 776, 1306], "nice": false, "zero": false}, "axis": null},
            "x2": {"field": "c1"},
            "y": {"field": "r0", "type": "quantitative", "scale": {"domain": [0, 1, 2, 3], "range": [14, 52, 725, 1440], "nice": false, "zero": false}, "axis": null},
            "y2": {"field": "r1"},
            "fill": {"field": "kind", "type": "nominal", "scale": {"domain": ["head", "plain", "shade"], "range": ["#6b7587", "#ffffff", "#edf3fa"]}, "legend": null}
          }
        },
        {
          "data": {"values": [{"c": 0.5, "t": "Figure"}, {"c": 1.5, "t": "Caption"}]},
          "mark": {"type": "text", "font": "Liberation Serif", "fontSize": 29.3, "fontWeight": "bold", "align": "center", "baseline": "alphabetic", "color": "#000000"},
          "encoding": {
            "x": {"field": "c", "type": "quantitative", "scale": {"domain": [0, 1, 2], "range": [12, 776, 1306], "nice": false, "zero": false}, "axis": null},
            "y": {"datum": 0.88, "type": "quantitative", "scale": {"domain": [0, 1, 2, 3], "range": [14, 52, 725, 1440], "nice": false, "zero": false}, "axis": null},
            "text": {"field": "t"}
          }
        }
      ]
    },
    {
      "data": {"name": "caption1"},
      "encoding": {
        "x": {"field": "col", "type": "quantitative", "scale": {"domain": [0, 1, 2], "range": [12, 776, 1306], "nice": false, "zero": false}, "axis": null},
        "y": {"field": "k", "type": "quantitative", "scale": {"domain": [0, 18], "range": [84, 719], "nice": false, "zero": false}, "axis": null},
        "text": {"field": "t"}
      },
      "layer": [
        {"transform": [{"filter": "datum.p == 'ti'"}], "mark": {"type": "text", "font": "Liberation Serif", "fontSize": 29.3, "fontWeight": "bold", "fontStyle": "italic", "align": "left", "baseline": "alphabetic", "dx": 2, "color": "#000000"}},
        {"transform": [{"filter": "datum.p == 'tx'"}], "mark": {"type": "text", "font": "Liberation Serif", "fontSize": 29.3, "align": "left", "baseline": "alphabetic", "dx": 2, "color": "#000000"}}
      ]
    },
    {
      "data": {"name": "caption2"},
      "encoding": {
        "x": {"field": "col", "type": "quantitative", "scale": {"domain": [0, 1, 2], "range": [12, 776, 1306], "nice": false, "zero": false}, "axis": null},
        "y": {"field": "k", "type": "quantitative", "scale": {"domain": [0, 19], "range": [757, 1427], "nice": false, "zero": false}, "axis": null},
        "text": {"field": "t"}
      },
      "layer": [
        {"transform": [{"filter": "datum.p == 'ti'"}], "mark": {"type": "text", "font": "Liberation Serif", "fontSize": 29.3, "fontWeight": "bold", "fontStyle": "italic", "align": "left", "baseline": "alphabetic", "dx": 2, "color": "#000000"}},
        {"transform": [{"filter": "datum.p == 'tx'"}], "mark": {"type": "text", "font": "Liberation Serif", "fontSize": 29.3, "align": "left", "baseline": "alphabetic", "dx": 2, "color": "#000000"}},
        {"transform": [{"filter": "datum.p == 'b'"}], "mark": {"type": "text", "font": "Liberation Serif", "fontSize": 29.3, "fontWeight": "bold", "align": "left", "baseline": "alphabetic", "dx": 2, "color": "#000000"}}
      ]
    },
    {
      "layer": [
        {
          "data": {"name": "grid1x"},
          "mark": {"type": "rule", "color": "#c4c4c4", "strokeWidth": 1, "strokeDash": [1.5, 2.5]},
          "encoding": {
            "x": {"field": "t", "type": "temporal", "scale": {"type": "utc", "domain": [{"year": 2011, "month": 1, "date": 1, "utc": true}, {"year": 2012, "month": 7, "date": 1, "utc": true}], "range": [139, 733], "nice": false}},
            "y": {"datum": 0.2, "type": "quantitative", "scale": {"domain": [0.2, 1.1], "range": [574, 211], "nice": false, "zero": false}},
            "y2": {"datum": 1.1}
          }
        },
        {
          "data": {"name": "grid1y"},
          "mark": {"type": "rule", "color": "#c4c4c4", "strokeWidth": 1, "strokeDash": [1.5, 2.5]},
          "encoding": {
            "y": {"field": "v", "type": "quantitative", "scale": {"domain": [0.2, 1.1], "range": [574, 211], "nice": false, "zero": false}},
            "x": {"datum": {"year": 2011, "month": 1, "date": 1, "utc": true}, "type": "temporal", "scale": {"type": "utc", "domain": [{"year": 2011, "month": 1, "date": 1, "utc": true}, {"year": 2012, "month": 7, "date": 1, "utc": true}], "range": [139, 733], "nice": false}},
            "x2": {"datum": {"year": 2012, "month": 7, "date": 1, "utc": true}}
          }
        },
        {
          "data": {"name": "one"},
          "mark": {"type": "rect", "fill": "#ffffff"},
          "encoding": {
            "x": {"datum": {"year": 2011, "month": 1, "date": 1, "utc": true}, "type": "temporal", "scale": {"type": "utc", "domain": [{"year": 2011, "month": 1, "date": 1, "utc": true}, {"year": 2012, "month": 7, "date": 1, "utc": true}], "range": [139, 733], "nice": false}},
            "x2": {"datum": {"year": 2011, "month": 7, "date": 9, "utc": true}},
            "y": {"datum": 0.2, "type": "quantitative", "scale": {"domain": [0.2, 1.1], "range": [574, 211], "nice": false, "zero": false}},
            "y2": {"datum": 0.651}
          }
        },
        {
          "data": {"name": "stops"},
          "mark": {"type": "rect", "fill": "#e6e6e6"},
          "encoding": {
            "x": {"field": "t0", "type": "temporal", "scale": {"type": "utc", "domain": [{"year": 2011, "month": 1, "date": 1, "utc": true}, {"year": 2012, "month": 7, "date": 1, "utc": true}], "range": [139, 733], "nice": false}},
            "x2": {"field": "t1"},
            "y": {"field": "lo", "type": "quantitative", "scale": {"domain": [0.2, 1.1], "range": [574, 211], "nice": false, "zero": false}},
            "y2": {"field": "hi"}
          }
        },
        {
          "data": {"name": "response"},
          "transform": [{"fold": ["a", "b", "c", "d", "e", "f"], "as": ["s", "v"]}],
          "mark": {"type": "line", "strokeWidth": 2.5},
          "encoding": {
            "x": {
              "field": "t", "type": "temporal",
              "scale": {"type": "utc", "domain": [{"year": 2011, "month": 1, "date": 1, "utc": true}, {"year": 2012, "month": 7, "date": 1, "utc": true}], "range": [139, 733], "nice": false},
              "axis": {
                "orient": "bottom", "offset": -853, "zindex": 1,
                "values": [
                  {"year": 2011, "month": 1, "date": 1, "utc": true}, {"year": 2011, "month": 3, "date": 1, "utc": true}, {"year": 2011, "month": 5, "date": 1, "utc": true},
                  {"year": 2011, "month": 7, "date": 1, "utc": true}, {"year": 2011, "month": 9, "date": 1, "utc": true}, {"year": 2011, "month": 11, "date": 1, "utc": true},
                  {"year": 2012, "month": 1, "date": 1, "utc": true}, {"year": 2012, "month": 3, "date": 1, "utc": true}, {"year": 2012, "month": 5, "date": 1, "utc": true},
                  {"year": 2012, "month": 7, "date": 1, "utc": true}
                ],
                "format": "%m/%y", "labelAngle": -45, "labelFontSize": 22, "labelColor": "#222222", "labelPadding": 21, "labelOffset": 5,
                "labelFlush": false, "labelOverlap": false, "labelBound": false,
                "tickSize": -8, "tickColor": "#333333", "tickWidth": 1.2, "domain": false, "grid": false,
                "title": "date (month/year)", "titleFontSize": 22.5, "titleFontWeight": "normal", "titleColor": "#222222",
                "titleX": 436, "titleY": 82, "titleAlign": "center", "titleBaseline": "middle"
              }
            },
            "y": {
              "field": "v", "type": "quantitative",
              "scale": {"domain": [0.2, 1.1], "range": [574, 211], "nice": false, "zero": false},
              "axis": {
                "orient": "left", "offset": -139, "zindex": 1,
                "values": [0.2, 0.3, 0.4, 0.5, 0.6, 0.7, 0.8, 0.9, 1.0, 1.1],
                "format": "~g", "labelFontSize": 22, "labelColor": "#222222", "labelPadding": 24,
                "tickSize": -8, "tickColor": "#333333", "tickWidth": 1.2, "domain": false, "grid": false,
                "title": "relative response", "titleFontSize": 23.5, "titleFontWeight": "normal", "titleColor": "#222222",
                "titleX": -94, "titleY": 393, "titleAngle": -90, "titleAlign": "center", "titleBaseline": "middle"
              }
            },
            "color": {"field": "s", "type": "nominal", "scale": {"domain": ["a", "b", "c", "d", "e", "f"], "range": ["#e3281e", "#8ee624", "#1818e0", "#e21ee2", "#86f2f2", "#e0621a"]}, "legend": null},
            "detail": {"field": "g"}
          }
        },
        {
          "data": {"name": "one"},
          "mark": {"type": "rect", "fillOpacity": 0, "stroke": "#333333", "strokeWidth": 1.5},
          "encoding": {
            "x": {"datum": {"year": 2011, "month": 1, "date": 1, "utc": true}, "type": "temporal", "scale": {"type": "utc", "domain": [{"year": 2011, "month": 1, "date": 1, "utc": true}, {"year": 2012, "month": 7, "date": 1, "utc": true}], "range": [139, 733], "nice": false}},
            "x2": {"datum": {"year": 2012, "month": 7, "date": 1, "utc": true}},
            "y": {"datum": 0.2, "type": "quantitative", "scale": {"domain": [0.2, 1.1], "range": [574, 211], "nice": false, "zero": false}},
            "y2": {"datum": 1.1}
          }
        },
        {
          "data": {"name": "one"},
          "mark": {"type": "text", "text": "CMS Preliminary 2011-2012", "font": "Liberation Sans", "fontSize": 17, "align": "right", "baseline": "middle", "color": "#222222"},
          "encoding": {
            "x": {"datum": {"year": 2012, "month": 6, "date": 12, "hours": 14, "utc": true}, "type": "temporal", "scale": {"type": "utc", "domain": [{"year": 2011, "month": 1, "date": 1, "utc": true}, {"year": 2012, "month": 7, "date": 1, "utc": true}], "range": [139, 733], "nice": false}},
            "y": {"datum": 1.1398, "type": "quantitative", "scale": {"domain": [0.2, 1.1], "range": [574, 211], "nice": false, "zero": false}}
          }
        }
      ]
    },
    {
      "data": {"name": "one"},
      "mark": {"type": "point", "opacity": 0},
      "encoding": {
        "x": {
          "datum": {"year": 2011, "month": 1, "date": 1, "utc": true}, "type": "temporal",
          "scale": {"type": "utc", "domain": [{"year": 2011, "month": 1, "date": 1, "utc": true}, {"year": 2012, "month": 7, "date": 1, "utc": true}], "range": [139, 733], "nice": false},
          "axis": {"orient": "top", "offset": -211, "tickCount": {"interval": "day", "step": 10}, "labels": false, "tickSize": -5, "tickColor": "#333333", "tickWidth": 1, "domain": false, "grid": false, "title": null}
        },
        "y": {
          "datum": 0.2, "type": "quantitative",
          "scale": {"domain": [0.2, 1.1], "range": [574, 211], "nice": false, "zero": false},
          "axis": {"orient": "right", "offset": -573, "tickCount": 45, "labels": false, "tickSize": -5, "tickColor": "#333333", "tickWidth": 1, "domain": false, "grid": false, "title": null}
        }
      }
    },
    {
      "data": {"name": "one"},
      "mark": {"type": "point", "opacity": 0},
      "encoding": {
        "x": {
          "datum": {"year": 2011, "month": 1, "date": 1, "utc": true}, "type": "temporal",
          "scale": {"type": "utc", "domain": [{"year": 2011, "month": 1, "date": 1, "utc": true}, {"year": 2012, "month": 7, "date": 1, "utc": true}], "range": [139, 733], "nice": false},
          "axis": {"orient": "bottom", "offset": -853, "tickCount": {"interval": "day", "step": 10}, "labels": false, "tickSize": -5, "tickColor": "#333333", "tickWidth": 1, "domain": false, "grid": false, "title": null}
        },
        "y": {
          "datum": 0.2, "type": "quantitative",
          "scale": {"domain": [0.2, 1.1], "range": [574, 211], "nice": false, "zero": false},
          "axis": {"orient": "left", "offset": -139, "tickCount": 45, "labels": false, "tickSize": -5, "tickColor": "#333333", "tickWidth": 1, "domain": false, "grid": false, "title": null}
        }
      }
    },
    {
      "data": {"name": "key1"},
      "encoding": {
        "y": {"field": "k", "type": "quantitative", "scale": {"domain": [0, 5, 6], "range": [405, 520.5, 548.3], "nice": false, "zero": false}, "axis": null}
      },
      "layer": [
        {
          "transform": [{"filter": "datum.k != 5"}],
          "mark": {"type": "text", "font": "Liberation Sans", "fontSize": 21, "align": "right", "baseline": "middle", "color": "#222222"},
          "encoding": {
            "x": {"datum": 0, "type": "quantitative", "scale": {"domain": [-1, 0, 1], "range": [168, 298, 322], "nice": false, "zero": false}, "axis": null},
            "text": {"field": "label"}
          }
        },
        {
          "transform": [{"filter": "datum.k == 5"}],
          "mark": {"type": "text", "font": "Liberation Sans", "fontSize": 21, "align": "left", "baseline": "middle", "color": "#222222"},
          "encoding": {
            "x": {"datum": -1, "type": "quantitative", "scale": {"domain": [-1, 0, 1], "range": [168, 298, 322], "nice": false, "zero": false}, "axis": null},
            "text": {"field": "label"}
          }
        },
        {
          "transform": [{"filter": "datum.k < 6"}],
          "mark": {"type": "point", "shape": "circle", "filled": true, "size": 40, "opacity": 1},
          "encoding": {
            "x": {"datum": 1, "type": "quantitative", "scale": {"domain": [-1, 0, 1], "range": [168, 298, 322], "nice": false, "zero": false}, "axis": null},
            "color": {"field": "s", "type": "nominal", "scale": {"domain": ["a", "b", "c", "d", "e", "f"], "range": ["#e3281e", "#8ee624", "#1818e0", "#e21ee2", "#86f2f2", "#e0621a"]}, "legend": null}
          }
        },
        {
          "transform": [{"filter": "datum.k == 6"}],
          "mark": {"type": "point", "shape": "M-1,-0.55H1V0.55H-1Z", "filled": true, "size": 324, "fill": "#e6e6e6", "stroke": "#b8b8b8", "strokeWidth": 1, "opacity": 1},
          "encoding": {
            "x": {"datum": 1, "type": "quantitative", "scale": {"domain": [-1, 0, 1], "range": [168, 298, 322], "nice": false, "zero": false}, "axis": null}
          }
        }
      ]
    },
    {
      "layer": [
        {
          "data": {"name": "one"},
          "mark": {"type": "rect", "fill": "#ffffff"},
          "encoding": {
            "x": {"datum": {"year": 2012, "month": 3, "date": 26, "hours": 12, "utc": true}, "type": "temporal", "scale": {"type": "utc", "domain": [{"year": 2012, "month": 4, "date": 7, "utc": true}, {"year": 2012, "month": 6, "date": 11, "utc": true}], "range": [97, 565], "nice": false}},
            "x2": {"datum": {"year": 2012, "month": 7, "date": 9, "hours": 6, "utc": true}},
            "y": {"datum": 0.9145, "type": "quantitative", "scale": {"domain": [0.93, 1.03], "range": [1074, 777], "nice": false, "zero": false}},
            "y2": {"datum": 1.0351}
          }
        },
        {
          "data": {"name": "grid2x"},
          "mark": {"type": "rule", "color": "#d2d2d2", "strokeWidth": 1},
          "encoding": {
            "x": {"field": "t", "type": "temporal", "scale": {"type": "utc", "domain": [{"year": 2012, "month": 4, "date": 7, "utc": true}, {"year": 2012, "month": 6, "date": 11, "utc": true}], "range": [97, 565], "nice": false}},
            "y": {"datum": 0.93, "type": "quantitative", "scale": {"domain": [0.93, 1.03], "range": [1074, 777], "nice": false, "zero": false}},
            "y2": {"datum": 1.03}
          }
        },
        {
          "data": {"name": "grid2y"},
          "mark": {"type": "rule", "color": "#d2d2d2", "strokeWidth": 1},
          "encoding": {
            "y": {"field": "v", "type": "quantitative", "scale": {"domain": [0.93, 1.03], "range": [1074, 777], "nice": false, "zero": false}},
            "x": {"datum": {"year": 2012, "month": 4, "date": 7, "utc": true}, "type": "temporal", "scale": {"type": "utc", "domain": [{"year": 2012, "month": 4, "date": 7, "utc": true}, {"year": 2012, "month": 6, "date": 11, "utc": true}], "range": [97, 565], "nice": false}},
            "x2": {"datum": {"year": 2012, "month": 6, "date": 11, "utc": true}}
          }
        },
        {
          "data": {"name": "ep_corr"},
          "mark": {"type": "line", "color": "#3f7ef4", "strokeWidth": 2},
          "encoding": {
            "x": {
              "field": "t", "type": "temporal",
              "scale": {"type": "utc", "domain": [{"year": 2012, "month": 4, "date": 7, "utc": true}, {"year": 2012, "month": 6, "date": 11, "utc": true}], "range": [97, 565], "nice": false},
              "axis": {
                "orient": "bottom", "offset": -353, "zindex": 1,
                "values": [
                  {"year": 2012, "month": 4, "date": 12, "utc": true}, {"year": 2012, "month": 4, "date": 19, "utc": true}, {"year": 2012, "month": 4, "date": 26, "utc": true},
                  {"year": 2012, "month": 5, "date": 3, "utc": true}, {"year": 2012, "month": 5, "date": 10, "utc": true}, {"year": 2012, "month": 5, "date": 17, "utc": true},
                  {"year": 2012, "month": 5, "date": 24, "utc": true}, {"year": 2012, "month": 5, "date": 31, "utc": true}, {"year": 2012, "month": 6, "date": 7, "utc": true}
                ],
                "format": "%d/%m", "labelFontSize": 15.5, "labelColor": "#222222", "labelPadding": 11, "labelFlush": false, "labelOverlap": false,
                "tickSize": -8, "tickColor": "#555555", "tickWidth": 1, "domain": false, "grid": false,
                "title": "date (day/month)", "titleFontSize": 19.5, "titleFontWeight": "normal", "titleColor": "#222222",
                "titleX": 565, "titleY": 29, "titleAlign": "right", "titleBaseline": "middle"
              }
            },
            "y": {
              "field": "v", "type": "quantitative",
              "scale": {"domain": [0.93, 1.03], "range": [1074, 777], "nice": false, "zero": false},
              "axis": {
                "orient": "left", "offset": -97, "zindex": 1,
                "values": [0.93, 0.94, 0.95, 0.96, 0.97, 0.98, 0.99, 1.0, 1.01, 1.02, 1.03],
                "format": "~g", "labelFontSize": 16.3, "labelColor": "#222222", "labelPadding": 12,
                "tickSize": -8, "tickColor": "#555555", "tickWidth": 1, "domain": false, "grid": false,
                "title": "Relative E/p scale", "titleFontSize": 19.5, "titleFontWeight": "normal", "titleColor": "#222222",
                "titleX": -56, "titleY": 857, "titleAngle": -90, "titleAlign": "center", "titleBaseline": "middle"
              }
            }
          }
        },
        {
          "data": {"name": "ep_without"},
          "transform": [{"filter": "isValid(datum.lo)"}],
          "mark": {"type": "rule", "color": "#a51c1c", "strokeWidth": 1.2},
          "encoding": {
            "x": {"field": "t", "type": "temporal", "scale": {"type": "utc", "domain": [{"year": 2012, "month": 4, "date": 7, "utc": true}, {"year": 2012, "month": 6, "date": 11, "utc": true}], "range": [97, 565], "nice": false}},
            "y": {"field": "lo", "type": "quantitative", "scale": {"domain": [0.93, 1.03], "range": [1074, 777], "nice": false, "zero": false}},
            "y2": {"field": "hi"}
          }
        },
        {
          "data": {"name": "ep_without"},
          "mark": {"type": "point", "shape": "circle", "filled": false, "size": 32, "stroke": "#a51c1c", "strokeWidth": 1.4, "opacity": 0.9},
          "encoding": {
            "x": {"field": "t", "type": "temporal", "scale": {"type": "utc", "domain": [{"year": 2012, "month": 4, "date": 7, "utc": true}, {"year": 2012, "month": 6, "date": 11, "utc": true}], "range": [97, 565], "nice": false}},
            "y": {"field": "v", "type": "quantitative", "scale": {"domain": [0.93, 1.03], "range": [1074, 777], "nice": false, "zero": false}}
          }
        },
        {
          "data": {"name": "ep_with"},
          "transform": [{"filter": "isValid(datum.lo)"}],
          "mark": {"type": "rule", "color": "#1d961d", "strokeWidth": 1.2},
          "encoding": {
            "x": {"field": "t", "type": "temporal", "scale": {"type": "utc", "domain": [{"year": 2012, "month": 4, "date": 7, "utc": true}, {"year": 2012, "month": 6, "date": 11, "utc": true}], "range": [97, 565], "nice": false}},
            "y": {"field": "lo", "type": "quantitative", "scale": {"domain": [0.93, 1.03], "range": [1074, 777], "nice": false, "zero": false}},
            "y2": {"field": "hi"}
          }
        },
        {
          "data": {"name": "ep_with"},
          "mark": {"type": "point", "shape": "circle", "filled": true, "size": 26, "color": "#1a941a", "opacity": 1},
          "encoding": {
            "x": {"field": "t", "type": "temporal", "scale": {"type": "utc", "domain": [{"year": 2012, "month": 4, "date": 7, "utc": true}, {"year": 2012, "month": 6, "date": 11, "utc": true}], "range": [97, 565], "nice": false}},
            "y": {"field": "v", "type": "quantitative", "scale": {"domain": [0.93, 1.03], "range": [1074, 777], "nice": false, "zero": false}}
          }
        },
        {
          "data": {"name": "one"},
          "mark": {"type": "rect", "fillOpacity": 0, "stroke": "#7a7a7a", "strokeWidth": 1.3},
          "encoding": {
            "x": {"datum": {"year": 2012, "month": 4, "date": 7, "utc": true}, "type": "temporal", "scale": {"type": "utc", "domain": [{"year": 2012, "month": 4, "date": 7, "utc": true}, {"year": 2012, "month": 6, "date": 11, "utc": true}], "range": [97, 565], "nice": false}},
            "x2": {"datum": {"year": 2012, "month": 6, "date": 11, "utc": true}},
            "y": {"datum": 0.93, "type": "quantitative", "scale": {"domain": [0.93, 1.03], "range": [1074, 777], "nice": false, "zero": false}},
            "y2": {"datum": 1.03}
          }
        },
        {
          "data": {"name": "one"},
          "mark": {"type": "text", "text": "CMS 2012 Preliminary", "font": "Liberation Sans", "fontSize": 16.5, "fontWeight": "bold", "align": "left", "baseline": "middle", "color": "#111111"},
          "encoding": {
            "x": {"datum": {"year": 2012, "month": 4, "date": 9, "hours": 10, "utc": true}, "type": "temporal", "scale": {"type": "utc", "domain": [{"year": 2012, "month": 4, "date": 7, "utc": true}, {"year": 2012, "month": 6, "date": 11, "utc": true}], "range": [97, 565], "nice": false}},
            "y": {"datum": 1.0246, "type": "quantitative", "scale": {"domain": [0.93, 1.03], "range": [1074, 777], "nice": false, "zero": false}}
          }
        },
        {
          "data": {"name": "one"},
          "mark": {"type": "text", "text": "√s = 8 TeV\u00a0\u00a0\u00a0L = 3.95 fb", "font": "Liberation Sans", "fontSize": 16, "align": "left", "baseline": "middle", "color": "#111111"},
          "encoding": {
            "x": {"datum": {"year": 2012, "month": 4, "date": 9, "hours": 10, "utc": true}, "type": "temporal", "scale": {"type": "utc", "domain": [{"year": 2012, "month": 4, "date": 7, "utc": true}, {"year": 2012, "month": 6, "date": 11, "utc": true}], "range": [97, 565], "nice": false}},
            "y": {"datum": 1.0182, "type": "quantitative", "scale": {"domain": [0.93, 1.03], "range": [1074, 777], "nice": false, "zero": false}}
          }
        },
        {
          "data": {"name": "one"},
          "mark": {"type": "text", "text": "-1", "font": "Liberation Sans", "fontSize": 10.5, "align": "left", "baseline": "middle", "color": "#111111"},
          "encoding": {
            "x": {"datum": {"year": 2012, "month": 5, "date": 2, "hours": 22, "utc": true}, "type": "temporal", "scale": {"type": "utc", "domain": [{"year": 2012, "month": 4, "date": 7, "utc": true}, {"year": 2012, "month": 6, "date": 11, "utc": true}], "range": [97, 565], "nice": false}},
            "y": {"datum": 1.0196, "type": "quantitative", "scale": {"domain": [0.93, 1.03], "range": [1074, 777], "nice": false, "zero": false}}
          }
        },
        {
          "data": {"name": "one"},
          "mark": {"type": "text", "text": "ECAL Barrel: Prompt Reco", "font": "Liberation Sans", "fontSize": 16, "align": "right", "baseline": "middle", "color": "#111111"},
          "encoding": {
            "x": {"datum": {"year": 2012, "month": 6, "date": 8, "hours": 10, "utc": true}, "type": "temporal", "scale": {"type": "utc", "domain": [{"year": 2012, "month": 4, "date": 7, "utc": true}, {"year": 2012, "month": 6, "date": 11, "utc": true}], "range": [97, 565], "nice": false}},
            "y": {"datum": 1.0223, "type": "quantitative", "scale": {"domain": [0.93, 1.03], "range": [1074, 777], "nice": false, "zero": false}}
          }
        }
      ]
    },
    {
      "data": {"name": "one"},
      "mark": {"type": "point", "opacity": 0},
      "encoding": {
        "x": {
          "datum": {"year": 2012, "month": 4, "date": 7, "utc": true}, "type": "temporal",
          "scale": {"type": "utc", "domain": [{"year": 2012, "month": 4, "date": 7, "utc": true}, {"year": 2012, "month": 6, "date": 11, "utc": true}], "range": [97, 565], "nice": false},
          "axis": {"orient": "top", "offset": -777, "tickCount": {"interval": "day", "step": 1}, "labels": false, "tickSize": -4, "tickColor": "#666666", "tickWidth": 1, "domain": false, "grid": false, "title": null}
        },
        "y": {
          "datum": 0.93, "type": "quantitative",
          "scale": {"domain": [0.93, 1.03], "range": [1074, 777], "nice": false, "zero": false},
          "axis": {"orient": "right", "offset": -741, "tickCount": 50, "labels": false, "tickSize": -4, "tickColor": "#666666", "tickWidth": 1, "domain": false, "grid": false, "title": null}
        }
      }
    },
    {
      "data": {"name": "one"},
      "mark": {"type": "point", "opacity": 0},
      "encoding": {
        "x": {
          "datum": {"year": 2012, "month": 4, "date": 7, "utc": true}, "type": "temporal",
          "scale": {"type": "utc", "domain": [{"year": 2012, "month": 4, "date": 7, "utc": true}, {"year": 2012, "month": 6, "date": 11, "utc": true}], "range": [97, 565], "nice": false},
          "axis": {"orient": "bottom", "offset": -353, "tickCount": {"interval": "day", "step": 1}, "labels": false, "tickSize": -4, "tickColor": "#666666", "tickWidth": 1, "domain": false, "grid": false, "title": null}
        },
        "y": {
          "datum": 0.93, "type": "quantitative",
          "scale": {"domain": [0.93, 1.03], "range": [1074, 777], "nice": false, "zero": false},
          "axis": {"orient": "left", "offset": -97, "tickCount": 50, "labels": false, "tickSize": -4, "tickColor": "#666666", "tickWidth": 1, "domain": false, "grid": false, "title": null}
        }
      }
    },
    {
      "layer": [
        {
          "data": {"name": "hist"},
          "mark": {"type": "rect"},
          "encoding": {
            "x": {
              "field": "n", "type": "quantitative",
              "scale": {"domain": [0, 125], "range": [584, 721], "nice": false, "zero": false},
              "axis": {
                "orient": "bottom", "offset": -353, "zindex": 1, "values": [0, 50, 100], "format": "d",
                "labelFontSize": 15.5, "labelColor": "#222222", "labelPadding": 11, "labelFlush": false,
                "tickSize": -8, "tickColor": "#555555", "domain": false, "grid": false, "title": null
              }
            },
            "x2": {"datum": 0},
            "y": {"field": "lo", "type": "quantitative", "scale": {"domain": [0.93, 1.03], "range": [1074, 777], "nice": false, "zero": false}, "axis": null},
            "y2": {"field": "hi"},
            "fill": {"field": "h", "type": "nominal", "scale": {"domain": ["g", "r"], "range": ["#7ecb7e", "#c96f6f"]}, "legend": null}
          }
        },
        {
          "data": {"name": "one"},
          "mark": {"type": "rect", "fillOpacity": 0, "stroke": "#7a7a7a", "strokeWidth": 1.3},
          "encoding": {
            "x": {"datum": 0, "type": "quantitative", "scale": {"domain": [0, 125], "range": [584, 721], "nice": false, "zero": false}},
            "x2": {"datum": 125},
            "y": {"datum": 0.93, "type": "quantitative", "scale": {"domain": [0.93, 1.03], "range": [1074, 777], "nice": false, "zero": false}, "axis": null},
            "y2": {"datum": 1.03}
          }
        }
      ]
    },
    {
      "data": {"name": "one"},
      "mark": {"type": "point", "opacity": 0},
      "encoding": {
        "x": {
          "datum": 0, "type": "quantitative",
          "scale": {"domain": [0, 125], "range": [584, 721], "nice": false, "zero": false},
          "axis": {"orient": "top", "offset": -777, "values": [0, 10, 20, 30, 40, 50, 60, 70, 80, 90, 100, 110, 120], "labels": false, "tickSize": -4, "tickColor": "#666666", "tickWidth": 1, "domain": false, "grid": false, "title": null}
        },
        "y": {
          "datum": 0.93, "type": "quantitative",
          "scale": {"domain": [0.93, 1.03], "range": [1074, 777], "nice": false, "zero": false},
          "axis": {"orient": "right", "offset": -585, "tickCount": 50, "labels": false, "tickSize": -4, "tickColor": "#666666", "tickWidth": 1, "domain": false, "grid": false, "title": null}
        }
      }
    },
    {
      "data": {"name": "one"},
      "mark": {"type": "point", "opacity": 0},
      "encoding": {
        "x": {
          "datum": 0, "type": "quantitative",
          "scale": {"domain": [0, 125], "range": [584, 721], "nice": false, "zero": false},
          "axis": {"orient": "bottom", "offset": -353, "values": [10, 20, 30, 40, 60, 70, 80, 90, 110, 120], "labels": false, "tickSize": -4, "tickColor": "#666666", "tickWidth": 1, "domain": false, "grid": false, "title": null}
        },
        "y": {
          "datum": 0.93, "type": "quantitative",
          "scale": {"domain": [0.93, 1.03], "range": [1074, 777], "nice": false, "zero": false},
          "axis": {"orient": "left", "offset": -584, "tickCount": 50, "labels": false, "tickSize": -4, "tickColor": "#b36060", "tickWidth": 1, "domain": false, "grid": false, "title": null}
        }
      }
    },
    {
      "layer": [
        {
          "data": {"name": "one"},
          "mark": {"type": "rect", "fill": "#ffffff", "stroke": "#777777", "strokeWidth": 1.3},
          "encoding": {
            "x": {"datum": -1, "type": "quantitative", "scale": {"domain": [-1, 0, 1, 2], "range": [590, 597, 707, 713], "nice": false, "zero": false}, "axis": null},
            "x2": {"datum": 2},
            "y": {"datum": -0.56, "type": "quantitative", "scale": {"domain": [0, 1, 2, 3], "range": [794.7, 810.3, 830.3, 846.3], "nice": false, "zero": false}, "axis": null},
            "y2": {"datum": 1.385}
          }
        },
        {
          "data": {"name": "one"},
          "mark": {"type": "rect", "fill": "#ffffff", "stroke": "#777777", "strokeWidth": 1.3},
          "encoding": {
            "x": {"datum": -1, "type": "quantitative", "scale": {"domain": [-1, 0, 1, 2], "range": [590, 597, 707, 713], "nice": false, "zero": false}, "axis": null},
            "x2": {"datum": 2},
            "y": {"datum": 1.535, "type": "quantitative", "scale": {"domain": [0, 1, 2, 3], "range": [794.7, 810.3, 830.3, 846.3], "nice": false, "zero": false}, "axis": null},
            "y2": {"datum": 3.48}
          }
        },
        {
          "data": {"name": "stats"},
          "mark": {"type": "text", "font": "Liberation Sans", "fontSize": 14, "align": "left", "baseline": "middle"},
          "encoding": {
            "x": {"datum": 0, "type": "quantitative", "scale": {"domain": [-1, 0, 1, 2], "range": [590, 597, 707, 713], "nice": false, "zero": false}, "axis": null},
            "y": {"field": "line", "type": "quantitative", "scale": {"domain": [0, 1, 2, 3], "range": [794.7, 810.3, 830.3, 846.3], "nice": false, "zero": false}, "axis": null},
            "text": {"field": "name"},
            "color": {"field": "grp", "type": "nominal", "scale": {"domain": ["g", "r"], "range": ["#2aa82a", "#b82828"]}, "legend": null}
          }
        },
        {
          "data": {"name": "stats"},
          "mark": {"type": "text", "font": "Liberation Sans", "fontSize": 14, "align": "right", "baseline": "middle"},
          "encoding": {
            "x": {"datum": 1, "type": "quantitative", "scale": {"domain": [-1, 0, 1, 2], "range": [590, 597, 707, 713], "nice": false, "zero": false}, "axis": null},
            "y": {"field": "line", "type": "quantitative", "scale": {"domain": [0, 1, 2, 3], "range": [794.7, 810.3, 830.3, 846.3], "nice": false, "zero": false}, "axis": null},
            "text": {"field": "val"},
            "color": {"field": "grp", "type": "nominal", "scale": {"domain": ["g", "r"], "range": ["#2aa82a", "#b82828"]}, "legend": null}
          }
        }
      ]
    },
    {
      "data": {"name": "key2"},
      "encoding": {
        "y": {"field": "k", "type": "quantitative", "scale": {"domain": [0, 2], "range": [1012.3, 1050], "nice": false, "zero": false}, "axis": null}
      },
      "layer": [
        {
          "mark": {"type": "rule", "strokeWidth": 2},
          "encoding": {
            "x": {"datum": 0, "type": "quantitative", "scale": {"domain": [0, 1, 2], "range": [132, 172, 179], "nice": false, "zero": false}, "axis": null},
            "x2": {"datum": 1},
            "color": {"field": "key", "type": "nominal", "scale": {"domain": ["g", "r", "b"], "range": ["#3cb43c", "#d98b8b", "#6f9cf2"]}, "legend": null}
          }
        },
        {
          "transform": [{"filter": "datum.key == 'g'"}],
          "mark": {"type": "point", "shape": "circle", "filled": true, "size": 30, "color": "#1d961d", "opacity": 1},
          "encoding": {
            "x": {"datum": 0.5, "type": "quantitative", "scale": {"domain": [0, 1, 2], "range": [132, 172, 179], "nice": false, "zero": false}, "axis": null}
          }
        },
        {
          "transform": [{"filter": "datum.key == 'r'"}],
          "mark": {"type": "point", "shape": "circle", "filled": true, "size": 40, "fill": "#ffffff", "stroke": "#d06f6f", "strokeWidth": 1.5, "opacity": 1},
          "encoding": {
            "x": {"datum": 0.5, "type": "quantitative", "scale": {"domain": [0, 1, 2], "range": [132, 172, 179], "nice": false, "zero": false}, "axis": null}
          }
        },
        {
          "mark": {"type": "text", "font": "Liberation Sans", "fontSize": 13.5, "align": "left", "baseline": "middle", "color": "#333333"},
          "encoding": {
            "x": {"datum": 2, "type": "quantitative", "scale": {"domain": [0, 1, 2], "range": [132, 172, 179], "nice": false, "zero": false}, "axis": null},
            "text": {"field": "label"}
          }
        }
      ]
    }
  ],
  "resolve": {
    "scale": {"x": "independent", "y": "independent", "color": "independent", "fill": "independent", "stroke": "independent"},
    "axis": {"x": "independent", "y": "independent"}
  }
}
